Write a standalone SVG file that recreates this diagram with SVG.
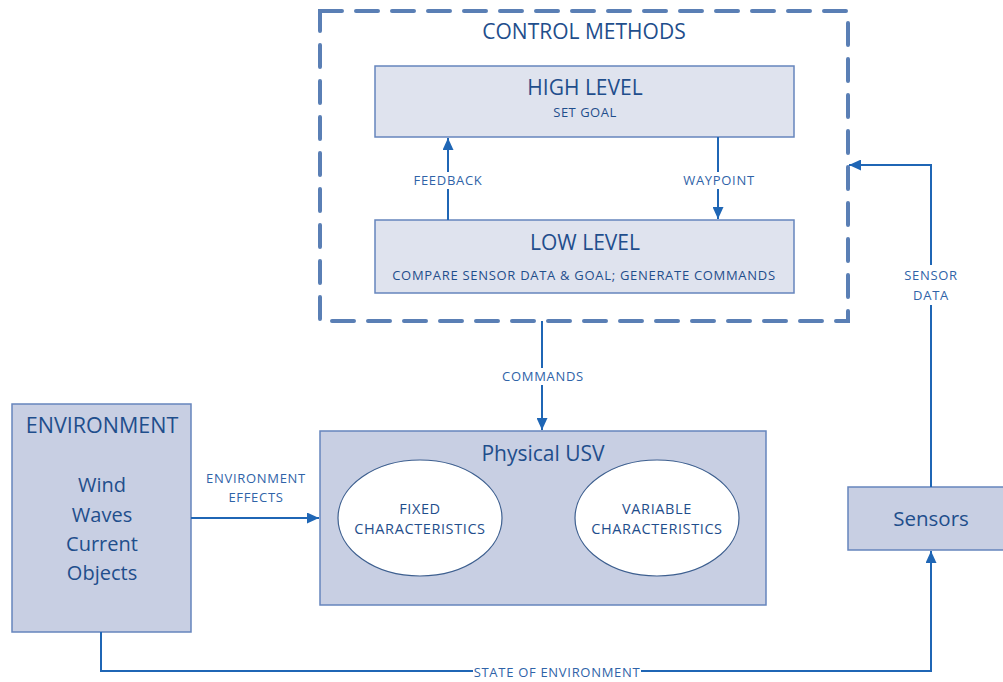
<svg xmlns="http://www.w3.org/2000/svg" width="1003" height="682" viewBox="0 0 1003 682">
<style>
.t{font-family:"Open Sans","Liberation Sans",sans-serif;fill:#1f4e8c;text-anchor:middle}
.lbl{font-family:"Open Sans","Liberation Sans",sans-serif;fill:#2f63a8;text-anchor:middle;font-size:13px;letter-spacing:0.7px}
.lvl{fill:#dfe3ee;stroke:#6685bd;stroke-width:1.5}
.blk{fill:#c8cfe3;stroke:#6685bd;stroke-width:1.5}
.ell{fill:#ffffff;stroke:#3d5f8f;stroke-width:1.2}
.et{font-size:14.5px;letter-spacing:0.6px}
.con{fill:none;stroke:#1f66b5;stroke-width:2}
</style>
<defs>
<marker id="ah" viewBox="0 0 12 11" refX="12" refY="5.5" markerWidth="12" markerHeight="11" markerUnits="userSpaceOnUse" orient="auto">
<path d="M0,0 L12,5.5 L0,11 z" fill="#1f66b5"/>
</marker>
</defs>
<rect width="1003" height="682" fill="#ffffff"/>

<g id="control-methods">
<rect x="320" y="11" width="528" height="310" fill="none" stroke="#5a7fb5" stroke-width="4" stroke-dasharray="22,14" stroke-linecap="round"/>
<text class="t" x="584" y="39" font-size="21">CONTROL METHODS</text>
</g>

<g id="high-level">
<rect class="lvl" x="375" y="66" width="419" height="71"/>
<text class="t" x="585" y="95" font-size="21">HIGH LEVEL</text>
<text class="t" x="585" y="117" font-size="13" letter-spacing="0.5">SET GOAL</text>
</g>

<g id="low-level">
<rect class="lvl" x="375" y="220" width="419" height="73"/>
<text class="t" x="585" y="250" font-size="21">LOW LEVEL</text>
<text class="t" x="584" y="280" font-size="13" letter-spacing="0.7">COMPARE SENSOR DATA &amp; GOAL; GENERATE COMMANDS</text>
</g>

<g id="physical-usv">
<rect class="blk" x="320" y="431" width="446" height="174"/>
<text class="t" x="543" y="461" font-size="21">Physical USV</text>
<ellipse class="ell" cx="420" cy="518" rx="82" ry="58"/>
<text class="t et" x="420" y="514">FIXED</text>
<text class="t et" x="420" y="534">CHARACTERISTICS</text>
<ellipse class="ell" cx="657" cy="518" rx="82" ry="58"/>
<text class="t et" x="657" y="514">VARIABLE</text>
<text class="t et" x="657" y="534">CHARACTERISTICS</text>
</g>

<g id="environment">
<rect class="blk" x="12" y="404" width="179" height="228"/>
<text class="t" x="102" y="433" font-size="21.5">ENVIRONMENT</text>
<text class="t" x="102" y="492" font-size="20">Wind</text>
<text class="t" x="102" y="522" font-size="20">Waves</text>
<text class="t" x="102" y="551" font-size="20">Current</text>
<text class="t" x="102" y="580" font-size="20">Objects</text>
</g>

<g id="sensors">
<rect class="blk" x="848" y="487" width="160" height="63"/>
<text class="t" x="931" y="526" font-size="20.5">Sensors</text>
</g>

<g id="connectors">
<line class="con" x1="448" y1="220" x2="448" y2="138" marker-end="url(#ah)"/>
<line class="con" x1="718" y1="137" x2="718" y2="219" marker-end="url(#ah)"/>
<line class="con" x1="542" y1="321" x2="542" y2="430" marker-end="url(#ah)"/>
<line class="con" x1="191" y1="518" x2="319" y2="518" marker-end="url(#ah)"/>
<polyline class="con" points="931,487 931,165 849,165" marker-end="url(#ah)"/>
<polyline class="con" points="101,632 101,671 931,671 931,551" marker-end="url(#ah)"/>
<rect x="405" y="172" width="86" height="17" fill="#ffffff"/>
<text class="lbl" x="448" y="185">FEEDBACK</text>
<rect x="677" y="172" width="82" height="17" fill="#ffffff"/>
<text class="lbl" x="719" y="185">WAYPOINT</text>
<rect x="496" y="368" width="94" height="17" fill="#ffffff"/>
<text class="lbl" x="543" y="381">COMMANDS</text>
<text class="lbl" x="256" y="483">ENVIRONMENT</text>
<text class="lbl" x="256" y="502">EFFECTS</text>
<rect x="898" y="265" width="66" height="40" fill="#ffffff"/>
<text class="lbl" x="931" y="280">SENSOR</text>
<text class="lbl" x="931" y="300">DATA</text>
<rect x="473" y="663" width="168" height="17" fill="#ffffff"/>
<text class="lbl" x="557" y="677">STATE OF ENVIRONMENT</text>
</g>
</svg>
